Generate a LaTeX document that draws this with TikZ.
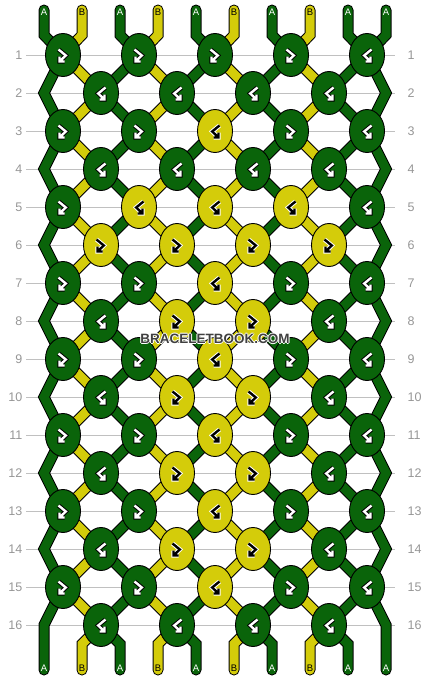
\documentclass[tikz,border=0pt]{standalone}
\usepackage{fontspec}
\setmainfont{Liberation Sans}
\usetikzlibrary{shapes.geometric}

\definecolor{knot0}{RGB}{10,100,10}
\definecolor{knot1}{RGB}{212,204,10}
\definecolor{gridgray}{RGB}{192,192,192}
\definecolor{numgray}{RGB}{150,150,150}
\definecolor{markgray}{RGB}{64,64,64}

% text with a thin white rim
\newcommand\halotext[1]{\leavevmode
  \rlap{\color{white}\kern-1pt#1}\rlap{\color{white}\kern1pt#1}%
  \rlap{\color{white}\raisebox{1pt}{#1}}\rlap{\color{white}\raisebox{-1pt}{#1}}#1}

\tikzset{
  fwdback/.pic={
    \foreach \sty in {glyphrim,glyphcore}
      \draw[\sty] (-4.5,-5.5) -- (2.8,0.5) -- (-3.5,6.5) (-3.5,1.5) -- (-3.5,6.5) -- (1.5,6.5);
  },
  backfwd/.pic={
    \foreach \sty in {glyphrim,glyphcore}
      \draw[\sty] (4.5,-5.5) -- (-2.8,0.5) -- (3.5,6.5) (3.5,1.5) -- (3.5,6.5) -- (-1.5,6.5);
  }
}

\begin{document}
\begin{tikzpicture}[x=1pt,y=-1pt,
    gridline/.style={gridgray,line width=1pt},
    rownum/.style={text=numgray,font=\fontsize{12.5}{12.5}\selectfont,inner sep=0pt},
    strandrim/.style={black,line width=11pt,line join=miter,line cap=round},
    strandcore/.style={line width=9pt,line join=miter,line cap=round},
    endtag/.style={font=\fontsize{9.5}{9.5}\selectfont,inner sep=0pt},
    tag0/.style={text=white},
    tag1/.style={text=black},
    knot/.style={ellipse,draw=black,line width=0.9pt,minimum width=35pt,minimum height=43pt,inner sep=0pt},
    glyph0/.style={glyphrim/.style={black,line width=4.4pt,line cap=square,line join=miter},
                   glyphcore/.style={white,line width=2.4pt,line cap=square,line join=miter}},
    glyph1/.style={glyphrim/.style={white,line width=4.4pt,line cap=square,line join=miter},
                   glyphcore/.style={black,line width=2.4pt,line cap=square,line join=miter}},
    wmark/.style={font=\fontsize{13.5}{13.5}\selectfont\bfseries,inner sep=0pt}]

  \useasboundingbox (0,0) rectangle (430,680);

  % rows: guide lines, numbers, knot centres
  \foreach \r in {1,...,16} {
    \pgfmathsetmacro\yy{55+38*(\r-1)}
    \pgfmathtruncatemacro\odd{mod(\r,2)}
    \coordinate (gl\r) at (26,\yy);
    \coordinate (gr\r) at (395,\yy);
    \draw[gridline] (gl\r) -- (gr\r);
    \node[rownum,anchor=east] (ln\r) at (22.5,\yy) {\r};
    \node[rownum,anchor=west] (rn\r) at (407.5,\yy) {\r};
    \coordinate (eL\r) at (44,\yy);
    \coordinate (eR\r) at (386,\yy);
    \ifnum\odd=1
      \foreach \c in {0,...,4} \coordinate (k\r-\c) at (63+76*\c,\yy);
    \else
      \foreach \c in {0,...,3} \coordinate (k\r-\c) at (101+76*\c,\yy);
    \fi
  }

  % where each strand passes in each row
  \foreach \p in {0,...,9} {
    \pgfmathsetmacro\xx{44+38*\p}
    \coordinate (t\p) at (\xx,10);
    \coordinate (u\p) at (\xx,35);
    \coordinate (v\p) at (\xx,644);
    \coordinate (w\p) at (\xx,670);
    \pgfmathtruncatemacro\ko{int(\p/2)}
    \pgfmathtruncatemacro\ke{int((\p-1)/2)}
    \foreach \r in {1,3,...,15} \coordinate (s\p-\r) at (k\r-\ko);
    \foreach \r in {2,4,...,16} {
      \ifnum\p=0 \coordinate (s\p-\r) at (eL\r);
      \else\ifnum\p=9 \coordinate (s\p-\r) at (eR\r);
      \else \coordinate (s\p-\r) at (k\r-\ke);
      \fi\fi
    }
  }

  % strands
  \foreach \p/\s/\tag in {0/0/A,1/1/B,2/0/A,3/1/B,4/0/A,5/1/B,6/0/A,7/1/B,8/0/A,9/0/A} {
    \draw[strandrim] (t\p) -- (u\p) \foreach \r in {1,...,16} {-- (s\p-\r)} -- (v\p) -- (w\p);
    \draw[strandcore,draw=knot\s] (t\p) -- (u\p) \foreach \r in {1,...,16} {-- (s\p-\r)} -- (v\p) -- (w\p);
    \node[endtag,tag\s] (atop\p) at ([yshift=-2.7pt]t\p) {\tag};
    \node[endtag,tag\s] (abot\p) at ([yshift=2pt]w\p) {\tag};
  }

  % knots: 0 = A colour, 1 = B colour
  \foreach \r/\row in {1/{0,0,0,0,0},2/{0,0,0,0},3/{0,0,1,0,0},4/{0,0,0,0},
                       5/{0,1,1,1,0},6/{1,1,1,1},7/{0,0,1,0,0},8/{0,1,1,0},
                       9/{0,0,1,0,0},10/{0,1,1,0},11/{0,0,1,0,0},12/{0,1,1,0},
                       13/{0,0,1,0,0},14/{0,1,1,0},15/{0,0,1,0,0},16/{0,0,0,0}} {
    \pgfmathtruncatemacro\odd{mod(\r,2)}
    \foreach \col [count=\c from 0] in \row {
      \node[knot,fill=knot\col] (n\r-\c) at (k\r-\c) {};
      \pgfmathtruncatemacro\isfb{or(and(and(\odd==1,\col==0),\c<4),and(\odd==0,\col==1))}
      \ifnum\isfb=1 \pic[glyph\col] at (n\r-\c) {fwdback};
      \else \pic[glyph\col] at (n\r-\c) {backfwd};
      \fi
    }
  }

  % watermark
  \node[wmark,text=markgray] (mark) at (215,339) {\halotext{BRACELETBOOK.COM}};
\end{tikzpicture}
\end{document}
